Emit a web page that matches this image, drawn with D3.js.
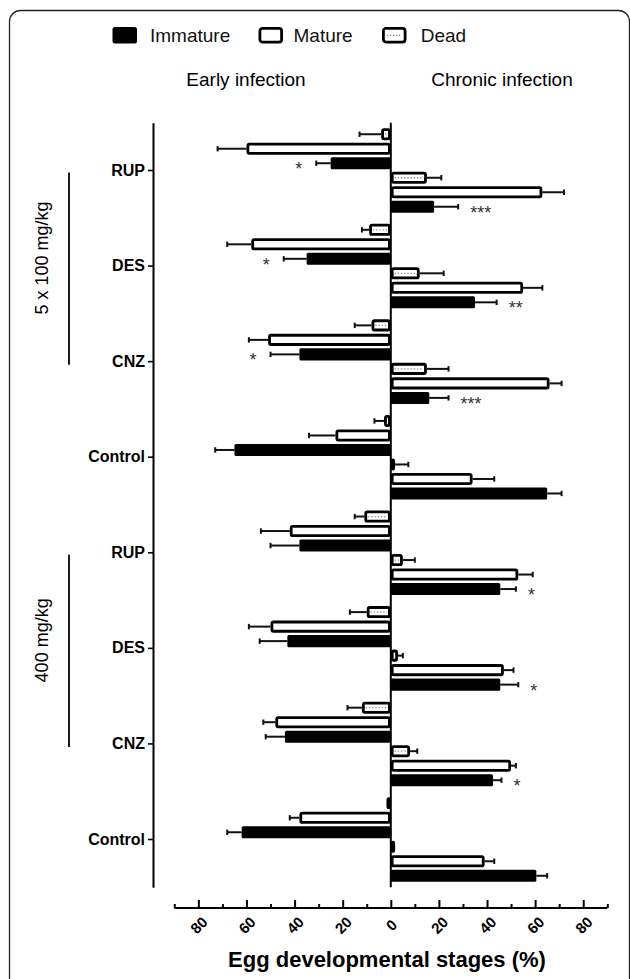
<!DOCTYPE html>
<html lang="en">
<head>
<meta charset="utf-8">
<title>Egg developmental stages</title>
<script src="https://cdn.jsdelivr.net/npm/d3@7"></script>
<style>
  body { margin: 0; background: #fff; }
  svg { display: block; font-family: "Liberation Sans", Arial, sans-serif; }
</style>
</head>
<body>
<div id="chart"></div>
<script>
// treatment groups, top to bottom
const categories = ["RUP", "DES", "CNZ", "Control", "RUP", "DES", "CNZ", "Control"];
const doseGroups = [
  { label: "5 x 100 mg/kg", from: 0, to: 2 },
  { label: "400 mg/kg", from: 4, to: 6 }
];

// early infection (drawn to the left)
const earlyDead = [4, 9, 8, 2.8, 11, 10, 12, 1.8];
const earlyDeadErr = [9, 3, 7, 4, 4, 7, 6, 0];
const earlyMature = [60, 58, 51, 23, 42, 50, 48, 38];
const earlyMatureErr = [12, 10, 8, 11, 12, 9, 5, 4];
const earlyImmature = [25, 35, 38, 65, 38, 43, 44, 62];
const earlyImmatureErr = [6, 9.5, 12, 8, 12, 11.5, 8, 6];
const earlySig = ["*", "*", "*", "", "", "", "", ""];

// chronic infection (drawn to the right)
const chronicDead = [15, 12, 15, 1.8, 5, 3, 8, 1.8];
const chronicDeadErr = [6, 10, 9, 5.5, 5, 2, 3, 0];
const chronicMature = [63, 55, 66, 34, 53, 47, 50, 39];
const chronicMatureErr = [9, 8, 5, 9, 6, 4, 2, 4];
const chronicImmature = [18, 35, 16, 65, 45.5, 45.5, 42.5, 60.5];
const chronicImmatureErr = [10, 9, 8, 6, 6.5, 7.5, 3.5, 4.5];
const chronicSig = ["***", "**", "***", "", "*", "*", "*", ""];

const majorTicks = [-80, -60, -40, -20, 0, 20, 40, 60, 80];
const minorTicks = [-90, -70, -50, -30, -10, 10, 30, 50, 70, 90];
const legendItems = ["Immature", "Mature", "Dead"];

const width = 630, height = 979;
const sw = 2.8;

const svg = d3.select("#chart").append("svg")
  .attr("width", width).attr("height", height);

// rounded frame, bottom runs off the page
svg.append("rect")
  .attr("x", 9.5).attr("y", 10.5)
  .attr("width", 620).attr("height", 1000)
  .attr("rx", 11)
  .attr("fill", "none").attr("stroke", "#222").attr("stroke-width", 1.3);

let x = d3.scaleLinear().domain([-90, 90]).range([174.3, 607.3]);
let y = d3.scaleBand().domain(categories.map((c, i) => "g" + i)).range([122.7, 887.3]);
let slots = ["eDead", "eMature", "eImmature", "cDead", "cMature", "cImmature"];
let ySlot = d3.scaleBand().domain(slots).range([0, y.bandwidth()])
  .paddingInner(0.17).paddingOuter(0.38);

let rows = [];
categories.forEach((c, i) => {
  let id = "g" + i;
  rows.push({ id, slot: "eDead", side: -1, stage: "Dead", v: earlyDead[i], e: earlyDeadErr[i], sig: "" });
  rows.push({ id, slot: "eMature", side: -1, stage: "Mature", v: earlyMature[i], e: earlyMatureErr[i], sig: "" });
  rows.push({ id, slot: "eImmature", side: -1, stage: "Immature", v: earlyImmature[i], e: earlyImmatureErr[i], sig: earlySig[i] });
  rows.push({ id, slot: "cDead", side: 1, stage: "Dead", v: chronicDead[i], e: chronicDeadErr[i], sig: "" });
  rows.push({ id, slot: "cMature", side: 1, stage: "Mature", v: chronicMature[i], e: chronicMatureErr[i], sig: "" });
  rows.push({ id, slot: "cImmature", side: 1, stage: "Immature", v: chronicImmature[i], e: chronicImmatureErr[i], sig: chronicSig[i] });
});

const rowTop = d => y(d.id) + ySlot(d.slot);
const rowMid = d => rowTop(d) + ySlot.bandwidth() / 2;

// error bars
let err = svg.append("g").attr("stroke", "#111").attr("stroke-width", 2)
  .selectAll("g").data(rows.filter(d => d.e > 0)).enter().append("g");
err.append("line")
  .attr("x1", d => x(d.side * d.v)).attr("x2", d => x(d.side * (d.v + d.e)))
  .attr("y1", rowMid).attr("y2", rowMid);
err.append("line")
  .attr("x1", d => x(d.side * (d.v + d.e))).attr("x2", d => x(d.side * (d.v + d.e)))
  .attr("y1", d => rowMid(d) - 2.7).attr("y2", d => rowMid(d) + 2.7);

// bars
let bars = svg.append("g").selectAll("g").data(rows).enter().append("g");
bars.append("rect")
  .attr("x", d => {
    let x0 = Math.min(x(0), x(d.side * d.v));
    return d.stage == "Immature" ? x0 : x0 + sw / 2;
  })
  .attr("width", d => {
    let w = Math.abs(x(d.side * d.v) - x(0));
    return d.stage == "Immature" ? w : Math.max(w - sw, 0.4);
  })
  .attr("y", d => d.stage == "Immature" ? rowTop(d) : rowTop(d) + sw / 2)
  .attr("height", d => d.stage == "Immature" ? ySlot.bandwidth() : ySlot.bandwidth() - sw)
  .attr("rx", 1.5)
  .attr("fill", d => d.stage == "Immature" ? "#000" : "#fff")
  .attr("stroke", d => d.stage == "Immature" ? "none" : "#000")
  .attr("stroke-width", sw);

// dotted fill of the dead bars
bars.filter(d => d.stage == "Dead" && d.v > 3)
  .append("line")
  .attr("x1", d => Math.min(x(0), x(d.side * d.v)) + sw + 1)
  .attr("x2", d => Math.max(x(0), x(d.side * d.v)) - sw - 1)
  .attr("y1", rowMid).attr("y2", rowMid)
  .attr("stroke", "#888").attr("stroke-width", 1.3)
  .attr("stroke-dasharray", "1.2 2");

// significance marks
svg.append("g").selectAll("text")
  .data(rows.filter(d => d.sig)).enter().append("text")
  .attr("x", d => x(d.side * (d.v + d.e)) + d.side * (d.side > 0 ? 12 : 14))
  .attr("y", d => rowMid(d) + 12)
  .attr("text-anchor", d => d.side > 0 ? "start" : "end")
  .attr("font-size", 18).attr("fill", "#333")
  .text(d => d.sig);

// zero line
svg.append("line")
  .attr("x1", x(0)).attr("x2", x(0))
  .attr("y1", y.range()[0]).attr("y2", y.range()[1])
  .attr("stroke", "#000").attr("stroke-width", 2);

// y axis
let yAxis = d3.axisLeft(y).tickSize(5).tickSizeOuter(0).tickPadding(3)
  .tickFormat(id => categories[+id.slice(1)]);
let gy = svg.append("g").attr("transform", "translate(153,0)").call(yAxis);
gy.select(".domain").attr("stroke-width", 2);
gy.selectAll(".tick line").attr("stroke-width", 1.6);
gy.selectAll("text").attr("font-size", 16).attr("font-weight", "bold")
  .attr("fill", "#000").attr("font-family", "Liberation Sans, Arial, sans-serif");

// x axis, ticks point up into the plot
let axisY = 908;
let xAxis = d3.axisBottom(x).tickValues(majorTicks).tickSize(-8).tickSizeOuter(0)
  .tickFormat(d => Math.abs(d));
let gx = svg.append("g").attr("transform", "translate(0," + axisY + ")").call(xAxis);
gx.select(".domain").attr("stroke-width", 2).attr("d", "M" + x.range()[0] + ",0H" + x.range()[1]);
gx.selectAll(".tick line").attr("stroke-width", 2);
gx.selectAll(".tick text")
  .attr("y", 0).attr("dy", null)
  .attr("transform", "translate(0,17) rotate(-45)")
  .attr("dominant-baseline", "central")
  .attr("text-anchor", "middle")
  .attr("font-size", 15).attr("font-weight", "bold").attr("fill", "#000")
  .attr("font-family", "Liberation Sans, Arial, sans-serif");

let xMinor = d3.axisBottom(x).tickValues(minorTicks).tickSize(-4).tickSizeOuter(0).tickFormat("");
let gm = svg.append("g").attr("transform", "translate(0," + axisY + ")").call(xMinor);
gm.select(".domain").remove();
gm.selectAll(".tick line").attr("stroke-width", 2);

svg.append("text")
  .attr("x", 387).attr("y", 967)
  .attr("text-anchor", "middle")
  .attr("font-size", 22).attr("font-weight", "bold")
  .text("Egg developmental stages (%)");

// dose brackets
doseGroups.forEach(g => {
  let y1 = y("g" + g.from) + y.bandwidth() / 2;
  let y2 = y("g" + g.to) + y.bandwidth() / 2;
  svg.append("line")
    .attr("x1", 69).attr("x2", 69).attr("y1", y1 + 2).attr("y2", y2 + 3)
    .attr("stroke", "#000").attr("stroke-width", 1.8);
  svg.append("text")
    .attr("transform", "translate(48," + ((y1 + y2) / 2 - 8) + ") rotate(-90)")
    .attr("text-anchor", "middle")
    .attr("font-size", 18)
    .text(g.label);
});

// panel headings
svg.append("text").attr("x", 246).attr("y", 86).attr("text-anchor", "middle")
  .attr("font-size", 19).text("Early infection");
svg.append("text").attr("x", 502).attr("y", 86).attr("text-anchor", "middle")
  .attr("font-size", 19).text("Chronic infection");

// legend
let legendX = [112.5, 258.5, 382];
let leg = svg.append("g").selectAll("g").data(legendItems).enter().append("g")
  .attr("transform", (d, i) => "translate(" + legendX[i] + ",27)");
leg.append("rect")
  .attr("x", d => d == "Immature" ? 0 : sw / 2)
  .attr("y", d => d == "Immature" ? 0 : sw / 2)
  .attr("width", d => d == "Immature" ? 24.5 : 24.5 - sw)
  .attr("height", d => d == "Immature" ? 16.5 : 16.5 - sw)
  .attr("rx", 2.5)
  .attr("fill", d => d == "Immature" ? "#000" : "#fff")
  .attr("stroke", d => d == "Immature" ? "none" : "#000")
  .attr("stroke-width", sw);
leg.filter(d => d == "Dead").append("line")
  .attr("x1", 5).attr("x2", 20).attr("y1", 8.3).attr("y2", 8.3)
  .attr("stroke", "#888").attr("stroke-width", 1.2).attr("stroke-dasharray", "1.2 1.8");
leg.append("text")
  .attr("x", d => d == "Immature" ? 37.5 : d == "Mature" ? 35 : 38.7)
  .attr("y", 15.3)
  .attr("font-size", 19).attr("fill", "#111")
  .text(d => d);
</script>
</body>
</html>
